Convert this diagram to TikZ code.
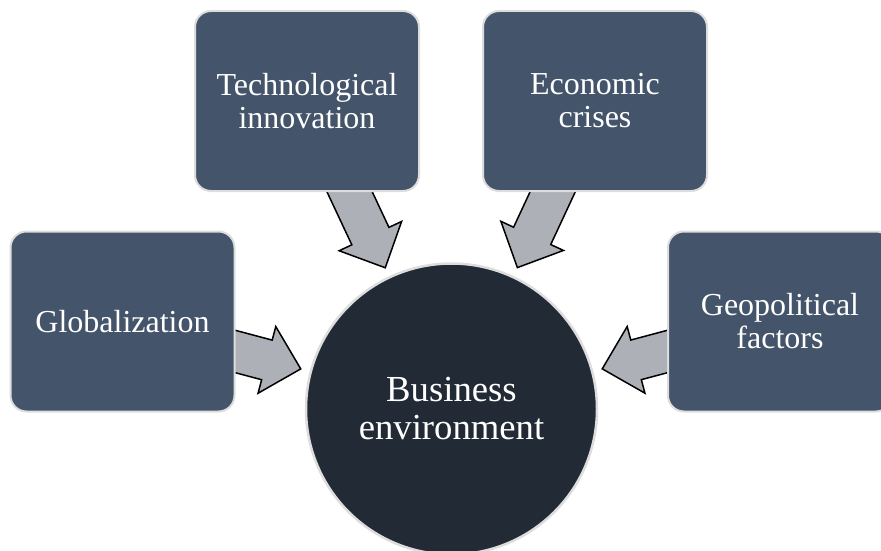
\documentclass[tikz,border=0pt]{standalone}
\usepackage{fontspec}
\setmainfont{Liberation Serif}
\usetikzlibrary{calc,backgrounds}
\definecolor{boxfill}{HTML}{44546A}
\definecolor{hubfill}{HTML}{222A35}
\definecolor{arrowfill}{HTML}{AEB0B7}
\definecolor{rimcol}{HTML}{DDDDDD}
\newcommand\fatarrow[2]{%
  \path ($(#2.center)!156pt!(#1.center)$) coordinate (tip-#1)
        ($(#2.center)!191pt!(#1.center)$) coordinate (neck-#1)
        ($(#2.center)!275pt!(#1.center)$) coordinate (tail-#1);
  \draw[bigarrow] ($(tail-#1)!20.5pt!90:(tip-#1)$) -- ($(neck-#1)!20.5pt!90:(tip-#1)$)
    -- ($(neck-#1)!34.5pt!90:(tip-#1)$) -- (tip-#1)
    -- ($(neck-#1)!34.5pt!-90:(tip-#1)$) -- ($(neck-#1)!20.5pt!-90:(tip-#1)$)
    -- ($(tail-#1)!20.5pt!-90:(tip-#1)$) -- cycle;}
\begin{document}
\begin{tikzpicture}[x=1pt,y=-1pt,
  factor/.style={rectangle, rounded corners=16pt, fill=boxfill, draw=rimcol, line width=2pt,
    minimum width=224pt, minimum height=180pt, text=white, align=center,
    font=\fontsize{32}{33}\selectfont, inner sep=0pt},
  hub/.style={circle, fill=hubfill, draw=rimcol, line width=2.5pt, minimum size=291pt,
    text=white, align=center, font=\fontsize{36.7}{38}\selectfont, inner sep=0pt},
  bigarrow/.style={fill=arrowfill, draw=black, line width=1.5pt, line join=miter}]
\clip (0,0) rectangle (881,551);
\useasboundingbox (0,0) rectangle (881,551);
\node[hub] (c) at (451.5,409) {Business\\environment};
\node[factor] (tech) at (307,101) {Technological\\innovation};
\node[factor] (econ) at (595,101) {Economic\\crises};
\node[factor] (glob) at (122.5,321.5) {Globalization};
\node[factor] (geo) at (780,321.5) {Geopolitical\\factors};
\begin{scope}[on background layer]
  \fatarrow{tech}{c}
  \fatarrow{econ}{c}
  \fatarrow{glob}{c}
  \fatarrow{geo}{c}
\end{scope}
\end{tikzpicture}
\end{document}
